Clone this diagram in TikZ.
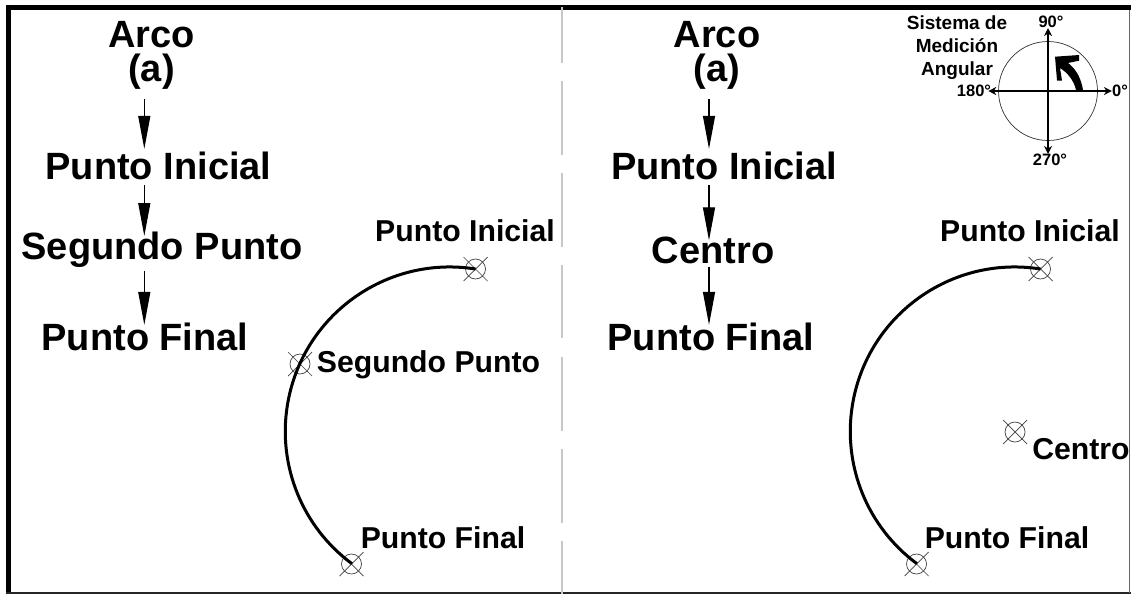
\documentclass[tikz,border=0pt]{standalone}
\usepackage{fontspec}
\setmainfont{Liberation Sans}
\usetikzlibrary{arrows.meta}
\tikzset{
  big/.style={inner sep=0pt,font=\fontsize{38}{38}\bfseries\selectfont},
  head/.style={inner sep=0pt,align=center,font=\fontsize{38}{34}\bfseries\selectfont},
  mid/.style={inner sep=0pt,font=\fontsize{30.2}{30.2}\bfseries\selectfont},
  sm/.style={inner sep=0pt,font=\fontsize{19}{23}\bfseries\selectfont,align=center},
  deg/.style={inner sep=0pt,font=\fontsize{16.5}{16.5}\bfseries\selectfont},
  flow/.style={line width=1.2pt,-{Triangle[length=33pt,width=12pt]}},
  arcline/.style={line width=3pt},
  axis/.style={line width=1.6pt,{Stealth[length=8pt,width=8pt]}-{Stealth[length=8pt,width=8pt]}},
  divider/.style={draw=black!22,line width=2pt},
  mk/.style={circle,draw=black!75,line width=.7pt,minimum size=20pt,inner sep=0pt},
}
\newcommand{\mkcross}[1]{\draw[black!75,line width=.7pt] ([shift={(-12,-12)}]#1.center) -- ([shift={(12,12)}]#1.center) ([shift={(-12,12)}]#1.center) -- ([shift={(12,-12)}]#1.center);}
\begin{document}
\begin{tikzpicture}[x=1pt,y=-1pt]
\useasboundingbox (0,0) rectangle (1131,595);
\fill[white] (0,0) rectangle (1131,595);
% frame
\fill[black] (6,5) rectangle (1131,10);
\fill[black] (6,5) rectangle (11,594);
\fill[black!85] (6,592) rectangle (1131,594);
\draw[black!60,line width=1pt] (1129,10) -- (1129,593);
% divider
\foreach \a/\b in {7/63,81/155,173/247,265/338,357/431,449/523,541/594}
  \draw[divider] (562.4,\a) -- (562.4,\b);
% left list
\node[head] (lb) at (151.5,55) {Arco\\(a)};
\node[big] (lc) at (158.5,166) {Punto Inicial};
\node[big] (ld) at (162,250) {Segundo Punto};
\node[big] (le) at (145,337) {Punto Final};
\draw[flow] ([xshift=-7.2pt,yshift=-10pt]lb.south) -- ([xshift=-14.2pt,yshift=3pt]lc.north);
\draw[flow] ([xshift=-14.2pt,yshift=-5pt]lc.south) -- ([xshift=-17.7pt,yshift=-4pt]ld.north);
\draw[flow] ([xshift=-17.7pt,yshift=-3pt]ld.south) -- ([xshift=-0.7pt,yshift=-2pt]le.north);
% right list
\node[head] (rb) at (717,55) {Arco\\(a)};
\node[big] (rc) at (724,166) {Punto Inicial};
\node[big] (rd) at (713,250) {Centro};
\node[big] (re) at (711,337) {Punto Final};
\draw[flow] ([xshift=-8pt,yshift=-10pt]rb.south) -- ([xshift=-15pt,yshift=3pt]rc.north);
\draw[flow] ([xshift=-15pt,yshift=-5pt]rc.south) -- ([xshift=-4pt,yshift=-4pt]rd.north);
\draw[flow] ([xshift=-4pt,yshift=-3pt]rd.south) -- ([xshift=-2pt,yshift=-2pt]re.north);
% left arc
\node[mk] (m1) at (475.5,269) {};
\node[mk] (m2) at (300,364) {};
\node[mk] (m3) at (351.5,564) {};
\mkcross{m1}\mkcross{m2}\mkcross{m3}
\draw[arcline] (m1.center) arc[start angle=-81,end angle=-233.5,radius=164.5];
\node[mid] at (465,231) {Punto Inicial};
\node[mid] at (428.5,365) {Segundo Punto};
\node[mid] at (443,538) {Punto Final};
% right arc
\node[mk] (n1) at (1040.5,269) {};
\node[mk] (n2) at (1015,432) {};
\node[mk] (n3) at (916.5,564) {};
\mkcross{n1}\mkcross{n2}\mkcross{n3}
\draw[arcline] (n1.center) arc[start angle=-81,end angle=-233.5,radius=164.5];
\node[mid] at (1030,231) {Punto Inicial};
\node[mid] at (1081,449) {Centro};
\node[mid] at (1007,538) {Punto Final};
% angular system
\node[sm] at (957,48) {Sistema de\\Medición\\Angular};
\node[circle,draw=black!80,line width=.7pt,minimum size=99pt,inner sep=0pt] (c) at (1048,91) {};
\node[deg] (d90) at (1051,22) {90°};
\node[deg] (d270) at (1050,160) {270°};
\node[deg] (d0) at (1120,91) {0°};
\node[deg] (d180) at (974,91) {180°};
\draw[axis] (d90.south -| c) -- (d270.north -| c);
\draw[axis] ([xshift=-3pt]d180.east) -- (d0.west);
\fill[black] (1055,56.7) -- (1079,55) -- (1079,60.7) -- (1068,63)
  .. controls (1076,69) and (1081,78) .. (1083,90) -- (1076,90)
  .. controls (1074,81) and (1068,73) .. (1060,68)
  -- (1062,80.7) -- (1057,80.7) -- cycle;
\end{tikzpicture}
\end{document}
